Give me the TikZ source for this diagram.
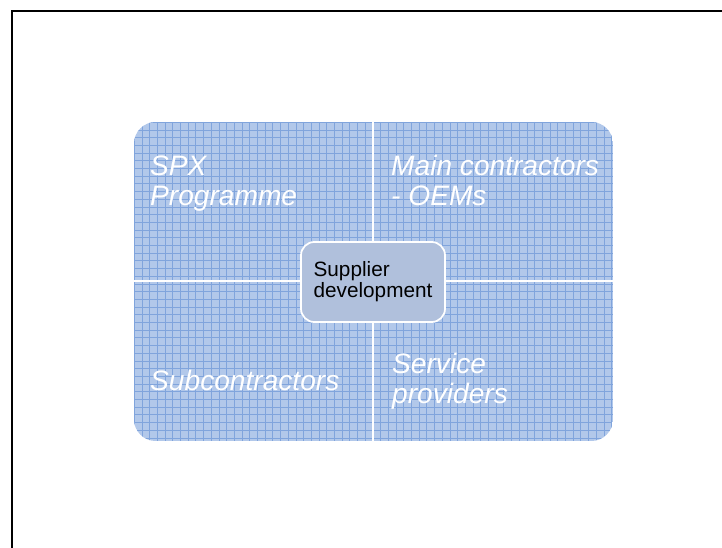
\documentclass[tikz,border=0pt]{standalone}
\usepackage{fontspec}
\setmainfont{Liberation Sans}
\usepackage{tikz}
\usetikzlibrary{positioning}
\definecolor{quadfill}{RGB}{178,200,234}
\definecolor{quadline}{RGB}{128,164,220}
\definecolor{hubfill}{RGB}{176,192,220}

\begin{document}
\begin{tikzpicture}[x=0.3mm,y=-0.3mm]%
\useasboundingbox (0,0) rectangle (722,548);
\clip (0,0) rectangle (722,548);
\tikzstyle{quadtext}=[anchor=base west,inner sep=0,align=left,text=white,font=\fontsize{24}{25.5}\selectfont\itshape]
\tikzstyle{hub}=[draw=white,line width=1.5pt,fill=hubfill,rounded corners=4mm,minimum width=144*0.3mm,minimum height=80*0.3mm,align=left,font=\fontsize{17.7}{18}\selectfont]
%% frame
\draw[line width=1.7pt] (12,600) |- (760,11);
%% quadrants
\begin{scope}
\clip[rounded corners=6.5mm] (134,122) rectangle (613,441);
\fill[quadfill] (134,122) rectangle (613,441);
\foreach \x in {134,141.7,...,613} \draw[quadline,line width=0.3pt] (\x,122) -- (\x,441);
\foreach \y in {122,129.7,...,441} \draw[quadline,line width=0.3pt] (134,\y) -- (613,\y);
\end{scope}
\coordinate (top) at (373,122); %%
\coordinate (bot) at (373,441); %%
\coordinate (lft) at (134,281); %%
\coordinate (rgt) at (613,281); %%
\draw[white,line width=2.2pt] (top)--(bot); %%
\draw[white,line width=2.2pt] (lft)--(rgt); %%
\node[quadtext] (spx) at (150,205) {SPX\\Programme}; %%
\node[quadtext] (main) at (391,205) {Main contractors\\- OEMs}; %%
\node[quadtext] (sub) at (150,390) {Subcontractors}; %%
\node[quadtext] (serv) at (392,403) {Service\\providers}; %%
\node[hub] (sup) at (373,282) {Supplier\\development}; %%
\end{tikzpicture}
\end{document}
